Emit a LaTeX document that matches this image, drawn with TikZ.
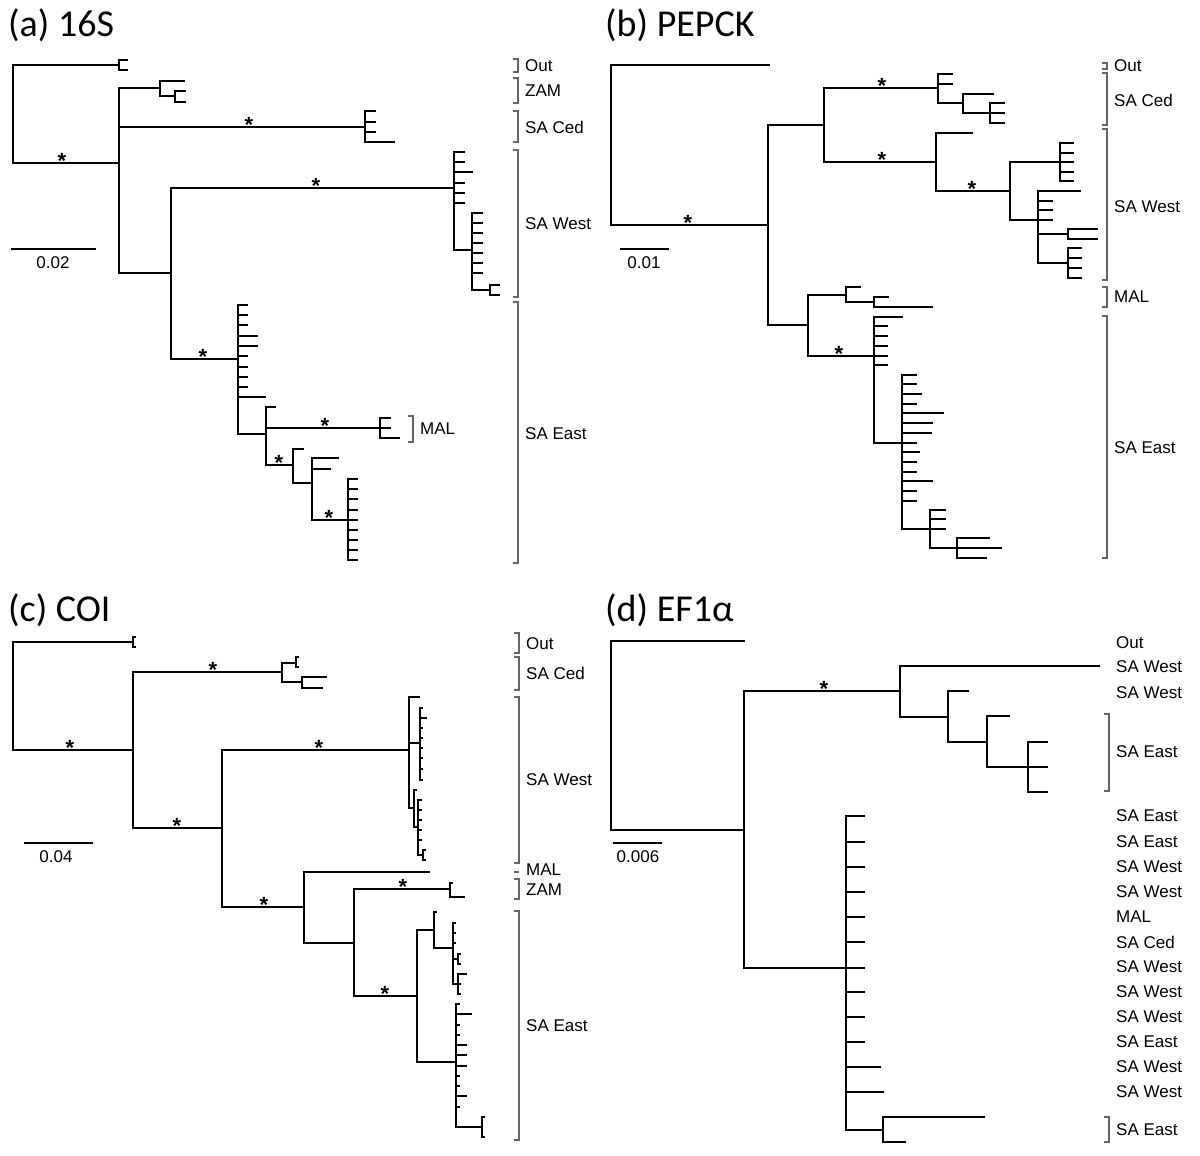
\documentclass[tikz,border=0pt]{standalone}
\usepackage{fontspec}
\setmainfont{Liberation Sans}
\newfontfamily\ttlfont{Carlito}
\newcommand{\treeedge}[2]{\draw[branch] (#1) |- (#2);}
\newcommand{\rakeof}[2]{\foreach \yy/\xx [count=\k] in {#2}{\coordinate (#1t\k) at (\xx,\yy);\draw[branch] (#1) |- (#1t\k);}}
\newcommand{\clade}[6]{%
  \coordinate (#1a) at (#2-5,#3); \coordinate (#1b) at (#2-5,#4);
  \draw[brkt] (#1a) -- ++(5,0) |- (#1b);
  \node[lab] (#1l) at (#2+7,#5) {#6};}
\begin{document}
\begin{tikzpicture}[x=1pt,y=-1pt,
  branch/.style={line width=1.9pt, line join=miter},
  brkt/.style={line width=1.2pt, black!60},
  lab/.style={anchor=west, inner sep=0pt, font=\fontsize{17}{17}\selectfont},
  astk/.style={anchor=base, inner sep=0pt, yshift=-5pt, font=\bfseries\fontsize{22}{22}\selectfont},
  ttl/.style={anchor=west, inner sep=0pt, font=\ttlfont\fontsize{38}{38}\selectfont},
  sbar/.style={line width=1.6pt},
  sblab/.style={inner sep=0pt, font=\fontsize{17}{17}\selectfont}]
\useasboundingbox[fill=white] (0,0) rectangle (1200,1156);

% ================= (a) 16S =================
\node[ttl] (ta) at (8,25) {(a) 16S};
\coordinate (aR) at (13,114);
\coordinate (aO) at (119,65);
\coordinate (a1) at (119,163);
\treeedge{aR}{aO}\treeedge{aR}{a1}
\rakeof{aO}{60/128,70/128}
\coordinate (aZ) at (160,88); \coordinate (aZ2) at (175,96);
\coordinate (aC) at (365,127); \coordinate (a2) at (171,273);
\treeedge{a1}{aZ}\treeedge{a1}{aC}\treeedge{a1}{a2}
\rakeof{aZ}{81/185}\treeedge{aZ}{aZ2}
\rakeof{aZ2}{91/186,102/186}
\rakeof{aC}{111/376,122/376,132/376,142/395}
\coordinate (aW) at (454,188); \coordinate (aE) at (238,359);
\treeedge{a2}{aW}\treeedge{a2}{aE}
\rakeof{aW}{152/465,162/465,172/473,183/465,193/465,203/465}
\coordinate (aW2) at (472,250); \treeedge{aW}{aW2}
\rakeof{aW2}{213/483,223/483,233/483,243/483,253/483,263/483,273/483}
\coordinate (aW3) at (490,290); \treeedge{aW2}{aW3}
\rakeof{aW3}{285/500,295/500}
\rakeof{aE}{305/248,315/248,325/248,336/258,346/258,356/248,367/248,377/248,387/248,397/266}
\coordinate (aE2) at (266,434); \treeedge{aE}{aE2}
\rakeof{aE2}{407/276}
\coordinate (aM) at (380,428); \coordinate (aE3) at (293,465);
\treeedge{aE2}{aM}\treeedge{aE2}{aE3}
\rakeof{aM}{418/391,428/391,438/400}
\rakeof{aE3}{449/304}
\coordinate (aE4) at (312,483); \treeedge{aE3}{aE4}
\rakeof{aE4}{458/339,469/331}
\coordinate (aE5) at (348,520); \treeedge{aE4}{aE5}
\rakeof{aE5}{479/358,489/358,499/358,510/358,520/358,530/358,540/358,550/358,560/358}
\foreach \xx/\yy [count=\k] in {62/163,249/127,316/188,203/359,325/428,279/465,329/520}
  \node[astk] (sa\k) at (\xx,\yy) {*};
\clade{kaO}{518}{59}{72}{66}{Out}
\clade{kaZ}{518}{78}{103}{91}{ZAM}
\clade{kaC}{518}{111}{142}{127}{SA Ced}
\clade{kaW}{518}{150}{297}{224}{SA West}
\clade{kaE}{518}{302}{563}{434}{SA East}
\clade{kaM}{413}{416}{442}{429}{MAL}
\coordinate (asb1) at (11,249); \coordinate (asb2) at (96,249);
\draw[sbar] (asb1) -- (asb2);
\node[sblab] (asl) at (53,263) {0.02};

% ================= (b) PEPCK =================
\node[ttl] (tb) at (605,25) {(b) PEPCK};
\coordinate (bR) at (611,145);
\coordinate (bO) at (770,65);
\coordinate (b1) at (768,225);
\treeedge{bR}{bO}\treeedge{bR}{b1}
\coordinate (b2) at (824,125); \coordinate (b3) at (808,325);
\treeedge{b1}{b2}\treeedge{b1}{b3}
\coordinate (bC) at (938,88); \coordinate (bW) at (936,162);
\treeedge{b2}{bC}\treeedge{b2}{bW}
\rakeof{bC}{74/953,84/953}
\coordinate (bC2) at (963,103); \treeedge{bC}{bC2}
\rakeof{bC2}{94/994}
\coordinate (bC3) at (990,113); \treeedge{bC2}{bC3}
\rakeof{bC3}{103/1005,113/1005,123/1005}
\rakeof{bW}{133/973}
\coordinate (bW2) at (1010,191); \treeedge{bW}{bW2}
\coordinate (bW3) at (1060,162); \coordinate (bW4) at (1038,220);
\treeedge{bW2}{bW3}\treeedge{bW2}{bW4}
\rakeof{bW3}{143/1074,153/1074,162/1074,172/1074,181/1074}
\rakeof{bW4}{191/1081,201/1053,210/1053,220/1053}
\coordinate (bW5) at (1068,234); \coordinate (bW6) at (1068,263);
\treeedge{bW4}{bW5}\treeedge{bW4}{bW6}
\rakeof{bW5}{229/1098,239/1098}
\rakeof{bW6}{248/1082,258/1082,268/1082,278/1082}
\coordinate (bM) at (846,295); \coordinate (bE) at (874,356);
\treeedge{b3}{bM}\treeedge{b3}{bE}
\rakeof{bM}{287/861}
\coordinate (bM2) at (874,302); \treeedge{bM}{bM2}
\rakeof{bM2}{297/889,307/933}
\rakeof{bE}{317/903,326/888,336/888,346/888,356/888,365/888}
\coordinate (bE2) at (902,443); \treeedge{bE}{bE2}
\rakeof{bE2}{375/917,384/917,394/922,404/917,413/944,423/933,433/932,443/917,452/920,462/917,472/917,481/933,491/917,501/917}
\coordinate (bE3) at (930,529); \treeedge{bE2}{bE3}
\rakeof{bE3}{510/946,519/946,529/946}
\coordinate (bE4) at (957,548); \treeedge{bE3}{bE4}
\rakeof{bE4}{538/990,548/1002,558/987}
\foreach \xx/\yy [count=\k] in {688/225,882/88,882/162,972/191,839/356}
  \node[astk] (sb\k) at (\xx,\yy) {*};
\clade{kbO}{1107}{63}{69}{66}{Out}
\clade{kbC}{1107}{73}{125}{100}{SA Ced}
\clade{kbW}{1107}{129}{280}{207}{SA West}
\clade{kbM}{1107}{287}{307}{297}{MAL}
\clade{kbE}{1107}{316}{558}{448}{SA East}
\coordinate (bsb1) at (620,249); \coordinate (bsb2) at (669,249);
\draw[sbar] (bsb1) -- (bsb2);
\node[sblab] (bsl) at (644,263) {0.01};

% ================= (c) COI =================
\node[ttl] (tc) at (8,610) {(c) COI};
\coordinate (cR) at (13,696);
\coordinate (cO) at (133,642); \coordinate (c1) at (133,750);
\treeedge{cR}{cO}\treeedge{cR}{c1}
\rakeof{cO}{637/136,647/136}
\coordinate (cC) at (282,672); \coordinate (c2) at (222,828);
\treeedge{c1}{cC}\treeedge{c1}{c2}
\coordinate (cC1) at (296,663); \coordinate (cC2) at (302,682);
\treeedge{cC}{cC1}\treeedge{cC}{cC2}
\rakeof{cC1}{657/299,667/299}
\rakeof{cC2}{677/327,688/323}
\coordinate (cW) at (409,750); \coordinate (c3) at (304,907);
\treeedge{c2}{cW}\treeedge{c2}{c3}
\rakeof{cW}{697/420}
\coordinate (cW1) at (420,743); \coordinate (cW2) at (414,808);
\treeedge{cW}{cW1}\treeedge{cW}{cW2}
\rakeof{cW1}{708/423,718/427,728/423,738/423,748/423,758/423,769/423,780/423}
\rakeof{cW2}{790/417}
\coordinate (cW3) at (418,827); \treeedge{cW2}{cW3}
\rakeof{cW3}{800/422,810/422,820/422,830/422,840/422}
\coordinate (cW4) at (423,855); \treeedge{cW3}{cW4}
\rakeof{cW4}{850/426,860/426}
\rakeof{c3}{872/430}
\coordinate (c4) at (354,943); \treeedge{c3}{c4}
\coordinate (cZ) at (450,889); \coordinate (cE) at (417,996);
\treeedge{c4}{cZ}\treeedge{c4}{cE}
\rakeof{cZ}{883/453,897/465}
\coordinate (cE1) at (434,930); \coordinate (cE2) at (456,1062);
\treeedge{cE}{cE1}\treeedge{cE}{cE2}
\rakeof{cE1}{912/437}
\coordinate (cE3) at (453,948); \treeedge{cE1}{cE3}
\rakeof{cE3}{923/456,933/456,943/456}
\coordinate (cE4) at (458,959); \coordinate (cE5) at (458,984);
\treeedge{cE3}{cE4}\treeedge{cE3}{cE5}
\rakeof{cE4}{954/461,964/461}
\rakeof{cE5}{974/467,984/461,994/461}
\rakeof{cE2}{1004/460,1014/472,1025/460,1035/460,1045/467,1055/467,1066/467,1076/460,1086/460,1096/467,1107/460}
\coordinate (cE6) at (482,1127); \treeedge{cE2}{cE6}
\rakeof{cE6}{1117/485,1137/485}
\foreach \xx/\yy [count=\k] in {70/750,213/672,177/828,319/750,264/907,403/889,385/996}
  \node[astk] (sc\k) at (\xx,\yy) {*};
\clade{kcO}{519}{633}{653}{644}{Out}
\clade{kcC}{519}{657}{690}{673}{SA Ced}
\clade{kcW}{519}{697}{863}{780}{SA West}
\coordinate (kcMa) at (514,872);
\draw[brkt] (kcMa) -- ++(5,0);
\node[lab] (kcMl) at (526,870) {MAL};
\clade{kcZ}{519}{879}{899}{890}{ZAM}
\clade{kcE}{519}{911}{1140}{1026}{SA East}
\coordinate (csb1) at (24,843); \coordinate (csb2) at (93,843);
\draw[sbar] (csb1) -- (csb2);
\node[sblab] (csl) at (56,857) {0.04};

% ================= (d) EF1a =================
\node[ttl] (td) at (605,610) {(d) EF1α};
\coordinate (dR) at (611,735);
\coordinate (dO) at (745,641); \coordinate (d1) at (744,830);
\treeedge{dR}{dO}\treeedge{dR}{d1}
\coordinate (d2) at (900,691); \coordinate (d3) at (846,968);
\treeedge{d1}{d2}\treeedge{d1}{d3}
\rakeof{d2}{666/1100}
\coordinate (d4) at (948,717); \treeedge{d2}{d4}
\rakeof{d4}{691/969}
\coordinate (d5) at (987,742); \treeedge{d4}{d5}
\rakeof{d5}{716/1010}
\coordinate (d6) at (1028,767); \treeedge{d5}{d6}
\rakeof{d6}{742/1048,767/1048,792/1048}
\rakeof{d3}{816/865,842/865,867/865,892/865,917/865,942/865,968/865,992/865,1017/865,1042/865,1067/881,1092/884}
\coordinate (d7) at (883,1130); \treeedge{d3}{d7}
\rakeof{d7}{1117/985,1142/906}
\node[astk] (sd1) at (824,691) {*};
\foreach \yy/\tt [count=\k] in {643/Out,667/SA West,693/SA West,816/SA East,842/SA East,867/SA West,892/SA West,917/MAL,942/SA Ced,967/SA West,992/SA West,1017/SA West,1042/SA East,1067/SA West,1092/SA West}
  \node[lab] (dl\k) at (1116,\yy) {\tt};
\clade{kdE}{1109}{714}{791}{752}{SA East}
\clade{kdF}{1109}{1117}{1142}{1130}{SA East}
\coordinate (dsb1) at (613,843); \coordinate (dsb2) at (662,843);
\draw[sbar] (dsb1) -- (dsb2);
\node[sblab] (dsl) at (638,857) {0.006};
\end{tikzpicture}
\end{document}
